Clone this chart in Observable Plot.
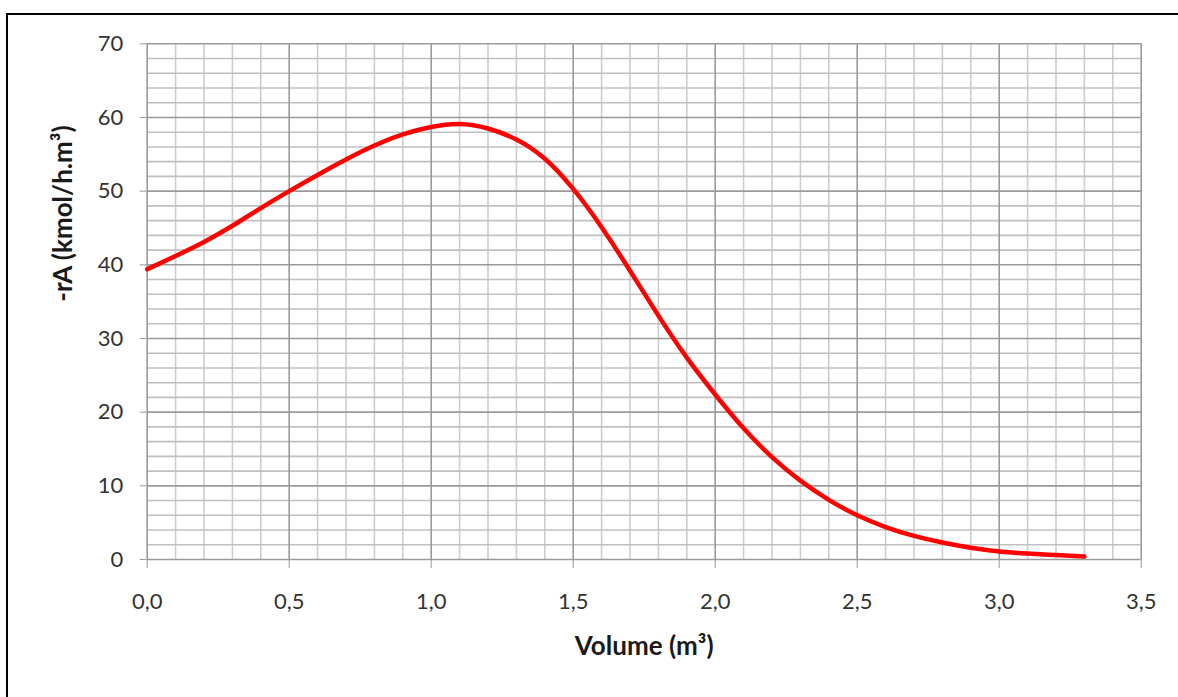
<!DOCTYPE html>
<html>
<head>
<meta charset="utf-8">
<script src="https://cdn.jsdelivr.net/npm/d3@7"></script>
<script src="https://cdn.jsdelivr.net/npm/@observablehq/plot@0.6"></script>
<style>
  html, body { margin: 0; padding: 0; background: #fff; overflow: hidden; }
  #wrap { position: relative; width: 1178px; height: 697px; overflow: hidden; background: #fff; }
  #frame { position: absolute; left: 6px; top: 13px; width: 1250px; height: 750px; border: 2.6px solid #000; box-sizing: border-box; }
  #chart { position: absolute; left: 0; top: 0; }
</style>
</head>
<body>
<div id="wrap">
  <div id="frame"></div>
  <div id="chart"></div>
</div>
<script>
// Data
const volume = [0.0, 0.1, 0.2, 0.3, 0.4, 0.5, 0.6, 0.7, 0.8, 0.9, 1.0, 1.1, 1.2, 1.3, 1.4, 1.5, 1.6,
                1.7, 1.8, 1.9, 2.0, 2.1, 2.2, 2.3, 2.4, 2.5, 2.6, 2.7, 2.8, 2.9, 3.0, 3.1, 3.2, 3.3];
const rate   = [39.4, 41.2, 43.1, 45.3, 47.7, 50.0, 52.2, 54.3, 56.2, 57.7, 58.7, 59.1, 58.5, 57.0, 54.4, 50.3, 45.1,
                39.2, 33.1, 27.4, 22.4, 17.8, 13.9, 10.7, 8.1, 6.0, 4.4, 3.2, 2.3, 1.6, 1.1, 0.8, 0.6, 0.4];

const xTicks = [0, 0.5, 1.0, 1.5, 2.0, 2.5, 3.0, 3.5];
const yTicks = [0, 10, 20, 30, 40, 50, 60, 70];
const xMinor = [0.1, 0.2, 0.3, 0.4, 0.6, 0.7, 0.8, 0.9, 1.1, 1.2, 1.3, 1.4, 1.6, 1.7, 1.8, 1.9,
                2.1, 2.2, 2.3, 2.4, 2.6, 2.7, 2.8, 2.9, 3.1, 3.2, 3.3, 3.4];
const yMinor = [2, 4, 6, 8, 12, 14, 16, 18, 22, 24, 26, 28, 32, 34, 36, 38, 42, 44, 46, 48,
                52, 54, 56, 58, 62, 64, 66, 68];

const xTitle = "Volume (m³)";
const yTitle = "-rA (kmol/h.m³)";

const points = volume.map((v, i) => ({v, r: rate[i]}));
const fmtX = d => d.toFixed(1).replace(".", ",");

const chart = Plot.plot({
  width: 1178,
  height: 697,
  marginLeft: 146.7,
  marginRight: 37.3,
  marginTop: 43.3,
  marginBottom: 138,
  style: {fontFamily: "Lato, 'Open Sans', sans-serif", fontSize: "22px", background: "transparent", overflow: "visible"},
  x: {domain: [0, 3.5]},
  y: {domain: [0, 70]},
  marks: [
    Plot.ruleX(xMinor, {stroke: "#cdcdcd", strokeWidth: 1.6}),
    Plot.ruleY(yMinor, {stroke: "#c0c0c0", strokeWidth: 1.6}),
    Plot.ruleX(xTicks, {stroke: "#9a9a9a", strokeWidth: 1.6}),
    Plot.ruleY(yTicks, {stroke: "#9a9a9a", strokeWidth: 1.6}),
    Plot.axisX({ticks: xTicks, tickFormat: fmtX, tickSize: 9, tickPadding: 25, stroke: "#999", fill: "#333", fontSize: 22, label: null}),
    Plot.axisY({ticks: yTicks, tickFormat: d => String(d), tickSize: 7, tickPadding: 17, stroke: "#999", fill: "#333", fontSize: 22, label: null}),
    Plot.line(points, {x: "v", y: "r", stroke: "#ff0000", strokeWidth: 4.5, curve: "natural"}),
    Plot.text([xTitle], {text: d => d, frameAnchor: "bottom", dy: 95, fontSize: 26, fontWeight: "bold", fill: "#1a1a1a"}),
    Plot.text([yTitle], {text: d => d, frameAnchor: "left", dx: -84, rotate: -90, fontSize: 26, fontWeight: "bold", fill: "#1a1a1a"})
  ]
});
document.getElementById("chart").appendChild(chart);
</script>
</body>
</html>
